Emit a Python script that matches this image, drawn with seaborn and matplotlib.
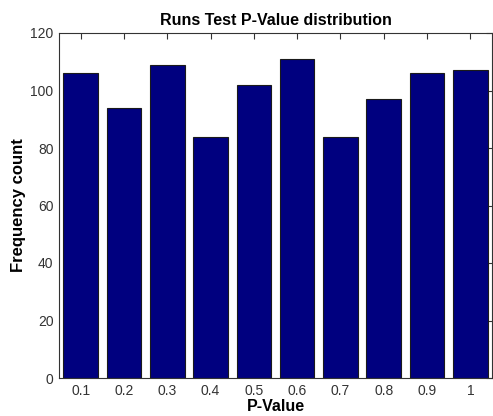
#Runs test p-value histogram, MATLAB-style bar chart

#import packages
import pandas as pd
from matplotlib import pyplot as plt
import seaborn as sns

#data
p_values = ['0.1', '0.2', '0.3', '0.4', '0.5', '0.6', '0.7', '0.8', '0.9', '1']
counts = [106, 94, 109, 84, 102, 111, 84, 97, 106, 107]

df = pd.DataFrame({'pvalue': p_values, 'count': counts})

sns.set_style('white')
plt.rcParams['font.family'] = ['Liberation Sans', 'DejaVu Sans']

fig = plt.figure(figsize=(4.93, 4.16), dpi=100)
ax = fig.add_axes([59/493, 1 - 378/416, (493 - 59 - 1)/493, (378 - 33)/416])

sns.barplot(x='pvalue', y='count', data=df, order=p_values, color='#00007f',
            width=0.8, edgecolor='#1a1a1a', linewidth=0.8, saturation=1, ax=ax)

ax.set_xlim(-0.5, 9.5)
ax.set_ylim(0, 120)
ax.set_yticks(range(0, 121, 20))

#ticks inward on all sides like matlab
ax.tick_params(direction='in', length=4, width=0.8, color='#333333',
               top=True, right=True, labelsize=10, labelcolor='#333333', pad=4)
for s in ax.spines.values():
    s.set_color('#333333')
    s.set_linewidth(0.8)

ax.set_xlabel('P-Value', fontsize=11.5, fontweight='bold', labelpad=1, color='black')
ax.set_ylabel('Frequency count', fontsize=12, fontweight='bold', labelpad=3, color='black')
ax.set_title('Runs Test P-Value distribution', fontsize=11.5, fontweight='bold', pad=6, color='black')

fig.savefig('out.png', dpi=100)
